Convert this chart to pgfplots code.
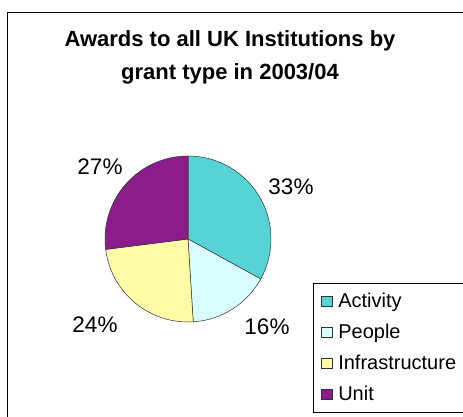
\documentclass[border=0pt]{standalone}
\usepackage{pgfplots}
\pgfplotsset{compat=1.18}
\usepackage{pgfplotstable}
\usepackage{fontspec}
\setmainfont{Liberation Sans}
\definecolor{cAct}{HTML}{57D3D6}
\definecolor{cPpl}{HTML}{D8FDFD}
\definecolor{cInf}{HTML}{FFFAA6}
\definecolor{cUnit}{HTML}{8C1C8C}
\definecolor{cEdge}{HTML}{333333}
\pgfplotstableread{
name value
Activity 33
People 16
Infrastructure 24
Unit 27
}\piedata
\begin{document}
\begin{tikzpicture}[x=1pt,y=1pt]
\useasboundingbox (0,0) rectangle (463,417);
\fill[white] (0,0) rectangle (463,417);
\draw[line width=1pt] (7,-10) rectangle (480,404);
\node[anchor=base, font=\bfseries\fontsize{22}{26}\selectfont] at (230,370) {Awards to all UK Institutions by};
\node[anchor=base, font=\bfseries\fontsize{22}{26}\selectfont] at (230,337) {grant type in 2003/04};
\pgfplotstablegetelem{0}{value}\of\piedata \let\vA\pgfplotsretval
\pgfplotstablegetelem{1}{value}\of\piedata \let\vB\pgfplotsretval
\pgfplotstablegetelem{2}{value}\of\piedata \let\vC\pgfplotsretval
\pgfplotstablegetelem{3}{value}\of\piedata \let\vD\pgfplotsretval
\pgfmathsetmacro\aA{90}
\pgfmathsetmacro\aB{\aA-3.6*\vA}
\pgfmathsetmacro\aC{\aB-3.6*\vB}
\pgfmathsetmacro\aD{\aC-3.6*\vC}
\pgfmathsetmacro\aE{\aD-3.6*\vD}
\begin{axis}[
  at={(188pt,178pt)}, anchor=center,
  scale only axis, width=166pt, height=166pt,
  xmin=-1, xmax=1, ymin=-1, ymax=1,
  hide axis, clip=false,
  legend image code/.code={\draw[#1,line width=0.6pt,draw=black!80] (0pt,-4.5pt) rectangle (11pt,5.5pt); \path (17pt,0pt);},
  legend cell align=left,
  legend style={at={(1.253,0.235)}, anchor=north west,
    draw=black, line width=1pt,
    font=\fontsize{20}{24}\selectfont,
    inner xsep=7pt, inner ysep=3pt, row sep=1pt,
    nodes={inner sep=0pt, text height=21pt, text depth=9pt}},
]
\addlegendimage{fill=cAct}
\addlegendimage{fill=cPpl}
\addlegendimage{fill=cInf}
\addlegendimage{fill=cUnit}
\filldraw[fill=cAct, draw=cEdge, line width=0.5pt] (axis cs:0,0) -- ++(\aA:83pt) arc[start angle=\aA, end angle=\aB, radius=83pt] -- cycle;
\filldraw[fill=cPpl, draw=cEdge, line width=0.5pt] (axis cs:0,0) -- ++(\aB:83pt) arc[start angle=\aB, end angle=\aC, radius=83pt] -- cycle;
\filldraw[fill=cInf, draw=cEdge, line width=0.5pt] (axis cs:0,0) -- ++(\aC:83pt) arc[start angle=\aC, end angle=\aD, radius=83pt] -- cycle;
\filldraw[fill=cUnit, draw=cEdge, line width=0.5pt] (axis cs:0,0) -- ++(\aD:83pt) arc[start angle=\aD, end angle=\aE, radius=83pt] -- cycle;
\legend{Activity,People,Infrastructure,Unit}
\end{axis}
\node[inner sep=0pt, font=\fontsize{22.5}{26}\selectfont] at (291,230) {\vA\%};
\node[inner sep=0pt, font=\fontsize{22.5}{26}\selectfont] at (267,90) {\vB\%};
\node[inner sep=0pt, font=\fontsize{22.5}{26}\selectfont] at (95,92) {\vC\%};
\node[inner sep=0pt, font=\fontsize{22.5}{26}\selectfont] at (100,250) {\vD\%};
\end{tikzpicture}
\end{document}
